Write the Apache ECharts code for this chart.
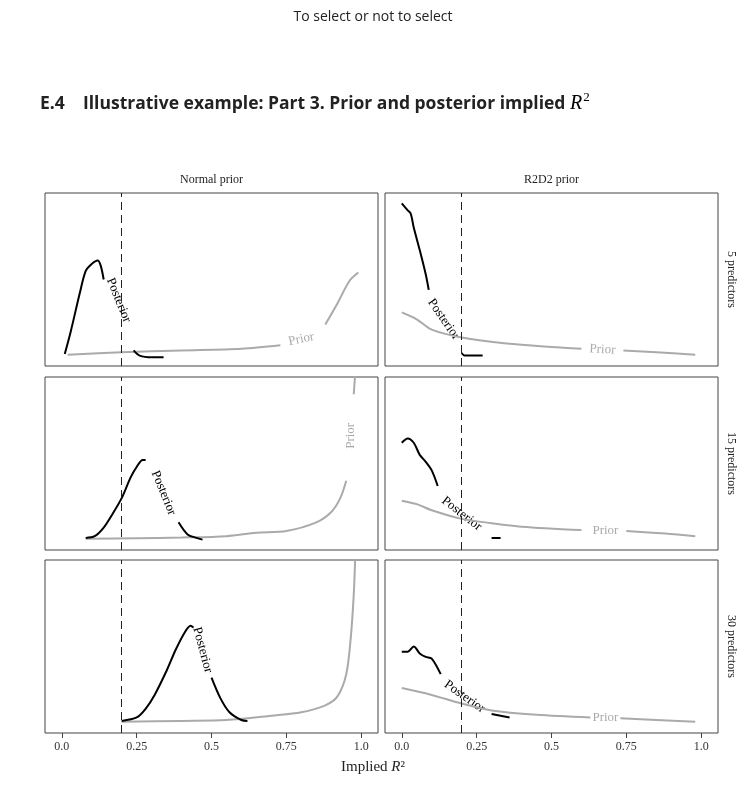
<!DOCTYPE html><html><head><meta charset="utf-8">
<script src="https://cdn.jsdelivr.net/npm/echarts@6/dist/echarts.min.js"></script>
<style>body{margin:0;background:#fff}#c{width:746px;height:811px}</style></head><body><div id="c"></div>
<script>
const columns = ['Normal prior', 'R2D2 prior'];
const rows = ['5 predictors', '15 predictors', '30 predictors'];
const xTicks = [0, 0.25, 0.5, 0.75, 1.0];
const xTickLabels = ['0.0', '0.25', '0.5', '0.75', '1.0'];
const threshold = 0.2;
// [x, scaled density]; null = gap for label
const post_n5 = [[0.01,0.07],[0.03,0.2],[0.06,0.42],[0.08,0.55],[0.1,0.59],[0.12,0.61],[0.13,0.58],[0.14,0.5],null,[0.24,0.09],[0.26,0.06],[0.3,0.05],[0.34,0.05]];
const prior_n5 = [[0.02,0.065],[0.2,0.08],[0.4,0.09],[0.6,0.1],[0.73,0.12],null,[0.88,0.24],[0.92,0.36],[0.96,0.49],[0.99,0.54]];
const post_r5 = [[0.0,0.94],[0.02,0.9],[0.03,0.88],[0.04,0.8],[0.06,0.67],[0.08,0.53],[0.09,0.44],null,[0.2,0.075],[0.21,0.06],[0.27,0.06]];
const prior_r5 = [[0.0,0.31],[0.05,0.27],[0.1,0.21],[0.2,0.165],[0.35,0.13],[0.5,0.11],[0.6,0.1],null,[0.74,0.09],[0.85,0.08],[0.98,0.065]];
const post_n15 = [[0.08,0.07],[0.11,0.08],[0.14,0.13],[0.17,0.21],[0.2,0.3],[0.23,0.42],[0.25,0.48],[0.27,0.52],[0.28,0.52],null,[0.39,0.16],[0.42,0.09],[0.45,0.07],[0.47,0.06]];
const prior_n15 = [[0.08,0.065],[0.25,0.068],[0.4,0.072],[0.55,0.08],[0.65,0.1],[0.75,0.11],[0.85,0.16],[0.9,0.22],[0.93,0.3],[0.95,0.4],null,[0.975,0.9],[0.98,1.02]];
const post_r15 = [[0.0,0.62],[0.02,0.645],[0.04,0.62],[0.06,0.55],[0.08,0.51],[0.1,0.46],[0.12,0.37],null,[0.3,0.07],[0.33,0.07]];
const prior_r15 = [[0.0,0.285],[0.05,0.265],[0.1,0.23],[0.2,0.18],[0.3,0.155],[0.4,0.135],[0.6,0.115],null,[0.75,0.11],[0.88,0.095],[0.98,0.08]];
const post_n30 = [[0.2,0.07],[0.25,0.09],[0.28,0.14],[0.31,0.22],[0.35,0.36],[0.38,0.48],[0.41,0.58],[0.43,0.62],[0.44,0.61],null,[0.5,0.32],[0.53,0.2],[0.56,0.12],[0.6,0.075],[0.62,0.07]];
const prior_n30 = [[0.2,0.065],[0.4,0.07],[0.55,0.075],[0.7,0.1],[0.8,0.12],[0.88,0.16],[0.92,0.21],[0.95,0.34],[0.965,0.55],[0.975,0.8],[0.98,1.02]];
const post_r30 = [[0.0,0.47],[0.02,0.47],[0.04,0.5],[0.06,0.46],[0.08,0.44],[0.1,0.43],[0.13,0.34],null,[0.3,0.11],[0.36,0.09]];
const prior_r30 = [[0.0,0.26],[0.1,0.22],[0.2,0.17],[0.3,0.13],[0.45,0.105],[0.63,0.09],null,[0.73,0.085],[0.85,0.075],[0.98,0.065]];
const panels = [[post_n5,prior_n5],[post_r5,prior_r5],[post_n15,prior_n15],[post_r15,prior_r15],[post_n30,prior_n30],[post_r30,prior_r30]];
// label: [panel, text, x, y, rotationDeg, colour]
const labels = [
 [0,'Posterior',0.19,0.38,-68,'#000'],[0,'Prior',0.8,0.155,12,'#aaa'],
 [1,'Posterior',0.14,0.27,-55,'#000'],[1,'Prior',0.67,0.095,-3,'#aaa'],
 [2,'Posterior',0.34,0.33,-68,'#000'],[2,'Prior',0.965,0.66,90,'#aaa'],
 [3,'Posterior',0.2,0.21,-38,'#000'],[3,'Prior',0.68,0.11,0,'#aaa'],
 [4,'Posterior',0.47,0.48,-75,'#000'],
 [5,'Posterior',0.21,0.21,-35,'#000'],[5,'Prior',0.68,0.088,0,'#aaa']
];
const F='Liberation Serif';
const chart = echarts.init(document.getElementById('c'));
const lefts=[45,385], tops=[193,377,560], W=333, H=173;
const grid=[],xAxis=[],yAxis=[],series=[];
for(let r=0;r<3;r++)for(let c=0;c<2;c++){
 const i=r*2+c;
 grid.push({left:lefts[c],top:tops[r],width:W,height:H,show:true,borderColor:'#444',borderWidth:1});
 xAxis.push({type:'value',gridIndex:i,min:-0.056,max:1.056,interval:0.25,splitLine:{show:false},
  axisLine:{show:false},axisTick:{show:r===2,length:5,lineStyle:{color:'#444'},customValues:xTicks},
  axisLabel:{show:r===2,fontFamily:F,fontSize:12,color:'#333',customValues:xTicks,formatter:v=>xTickLabels[xTicks.indexOf(+v.toFixed(2))]??''}});
 yAxis.push({type:'value',gridIndex:i,min:0,max:1,show:false,splitLine:{show:false}});
 const [po,pr]=panels[i];
 series.push({type:'line',xAxisIndex:i,yAxisIndex:i,data:pr.map(p=>p||[null,null]),connectNulls:false,showSymbol:false,smooth:0.3,lineStyle:{color:'#aaa',width:2},clip:true,z:2});
 series.push({type:'line',xAxisIndex:i,yAxisIndex:i,data:po.map(p=>p||[null,null]),connectNulls:false,showSymbol:false,smooth:0.3,lineStyle:{color:'#000',width:2},clip:true,z:3,
  markLine:{silent:true,symbol:'none',label:{show:false},lineStyle:{color:'#222',type:[8,5],width:1},data:[{xAxis:threshold}]}});
}
const g=[
 {type:'text',left:'center',top:10,style:{text:'To select or not to select',font:'14px "Open Sans"',fill:'#222'}},
 {type:'text',x:40,y:104,style:{text:'{a|E.4    Illustrative example: Part 3. Prior and posterior implied }{b|R}{c|2}',verticalAlign:'middle',
   rich:{a:{font:'bold 17.5px "Open Sans"',fill:'#222',color:'#222'},b:{font:'italic 20px "Liberation Serif"',color:'#222'},c:{font:'13px "Liberation Serif"',color:'#222',verticalAlign:'top',padding:[0,0,12,1]}}}},
 {type:'text',x:373,y:760,style:{text:'Implied {i|R}²',font:'15px "Liberation Serif"',fill:'#222',align:'center',rich:{i:{font:'italic 15px "Liberation Serif"',color:'#222'}}}}
];
columns.forEach((t,c)=>g.push({type:'text',x:lefts[c]+W/2,y:174,style:{text:t,font:'12px "Liberation Serif"',fill:'#222',align:'center'}}));
rows.forEach((t,r)=>g.push({type:'text',x:731,y:tops[r]+H/2,rotation:-Math.PI/2,style:{text:t,font:'12px "Liberation Serif"',fill:'#222',align:'center',verticalAlign:'middle'}}));
chart.setOption({animation:false,grid,xAxis,yAxis,series,graphic:g});
labels.forEach(([p,t,x,y,rot,col])=>{
 const [px,py]=chart.convertToPixel({gridIndex:p},[x,y]);
 g.push({type:'text',x:px,y:py,rotation:rot*Math.PI/180,style:{text:t,font:'13px "Liberation Serif"',fill:col,align:'center',verticalAlign:'middle'}});
});
chart.setOption({graphic:g});
</script></body></html>
